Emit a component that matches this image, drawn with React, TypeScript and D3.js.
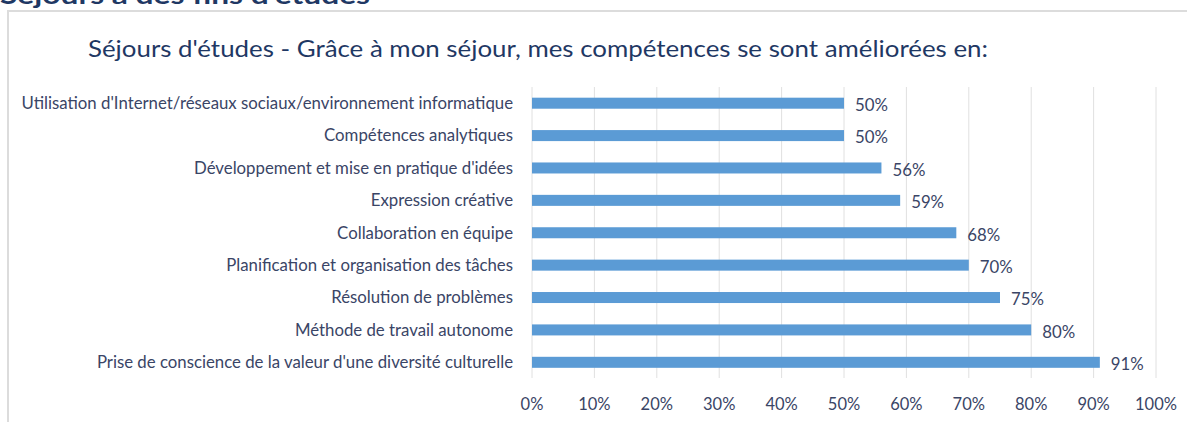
import React from "react";
import * as d3 from "d3";

const categories = [
  "Utilisation d'Internet/réseaux sociaux/environnement informatique",
  "Compétences analytiques",
  "Développement et mise en pratique d'idées",
  "Expression créative",
  "Collaboration en équipe",
  "Planification et organisation des tâches",
  "Résolution de problèmes",
  "Méthode de travail autonome",
  "Prise de conscience de la valeur d'une diversité culturelle",
];
const values = [0.5, 0.5, 0.56, 0.59, 0.68, 0.7, 0.75, 0.8, 0.91];
const valueLabels = ["50%", "50%", "56%", "59%", "68%", "70%", "75%", "80%", "91%"];
const ticks = [0, 0.1, 0.2, 0.3, 0.4, 0.5, 0.6, 0.7, 0.8, 0.9, 1.0];
const heading = "Séjours à des fins d'études";
const title = "Séjours d'études - Grâce à mon séjour, mes compétences se sont améliorées en:";

const W = 1187;
const H = 422;
const FONT = "Lato, 'Open Sans', sans-serif";
const TEXT = "#3a4566";

export default function App() {
  const x = d3.scaleLinear().domain([0, 1]).range([532, 1156]);
  const y = d3.scaleBand<string>().domain(categories).range([87, 378.5]).paddingInner(0.66).paddingOuter(0.33);
  const bw = y.bandwidth();

  return (
    <svg width={W} height={H} style={{ position: "fixed", left: 0, top: 0, background: "#fff" }} fontFamily={FONT}>
      <rect x={0} y={0} width={W} height={H} fill="#fff" />
      <text x={0} y={4} fontSize={24} fontWeight={700} fill="#1f3864" textLength={370} lengthAdjust="spacingAndGlyphs">
        {heading}
      </text>
      <line x1={8} y1={11} x2={W} y2={11} stroke="#dcdcdc" strokeWidth={2} />
      <line x1={8} y1={10} x2={8} y2={H} stroke="#dcdcdc" strokeWidth={2} />
      <text x={88} y={57} fontSize={22.5} fill="#1f3864" textLength={900} lengthAdjust="spacingAndGlyphs">
        {title}
      </text>
      {ticks.map((t) => (
        <line key={"g" + t} x1={x(t)} x2={x(t)} y1={87} y2={378} stroke="#e0e0e0" strokeWidth={1} />
      ))}
      {categories.map((c, i) => (
        <g key={c}>
          <rect x={x(0)} y={y(c)!} width={x(values[i]) - x(0)} height={bw} fill="#5b9bd5" />
          <text x={513} y={y(c)! + bw / 2} dy="0.35em" textAnchor="end" fontSize={16.8} fill={TEXT}>
            {c}
          </text>
          <text x={x(values[i]) + 11} y={y(c)! + bw / 2 + 2} dy="0.35em" fontSize={16.8} fill={TEXT}>
            {valueLabels[i]}
          </text>
        </g>
      ))}
      {ticks.map((t) => (
        <text key={"t" + t} x={x(t)} y={404} dy="0.35em" textAnchor="middle" fontSize={16.5} fill={TEXT}>
          {d3.format(".0%")(t)}
        </text>
      ))}
    </svg>
  );
}
